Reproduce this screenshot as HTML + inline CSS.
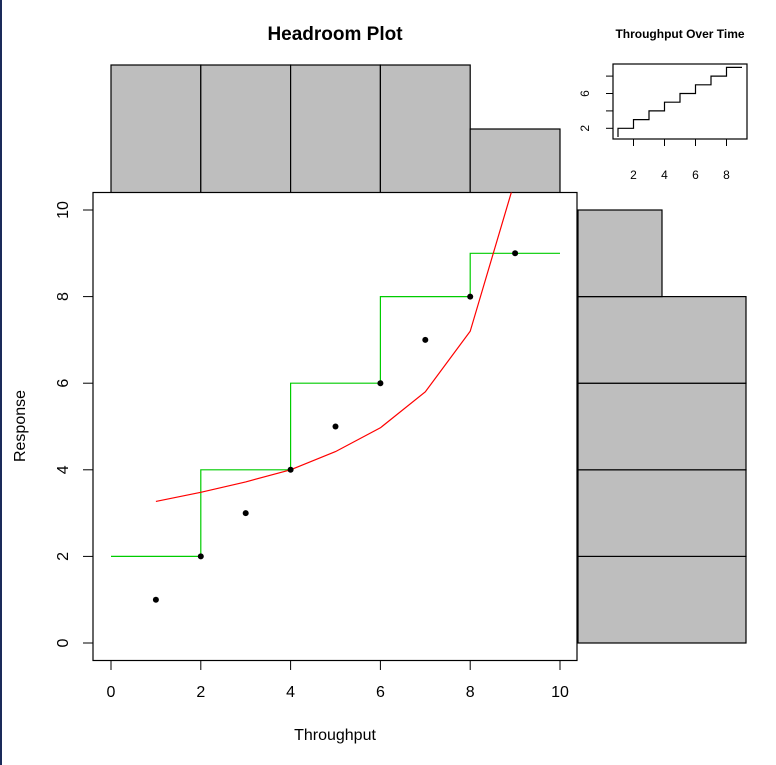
<!DOCTYPE html>
<html><head><meta charset="utf-8"><style>
body{margin:0;background:#fff;}
svg{display:block;font-family:"Liberation Sans",Arial,sans-serif;}
</style></head><body>
<svg id="c" width="776" height="765">
<rect x="0" y="0" width="2" height="765" fill="#1a2a5a"/>
<g id="g"></g>
</svg>
<script>
const xs=[1,2,3,4,5,6,7,8,9];
const ys=[1,2,3,4,5,6,7,8,9];
const fitY=[3.27,3.48,3.72,4.0,4.42,4.97,5.8,7.2,10.7];
const stepX=[0,2,4,6,8,10];
const stepY=[2,4,6,8,9,9];
const histBreaks=[0,2,4,6,8,10];
const histTopCounts=[2,2,2,2,1];
const histRightCounts=[2,2,2,2,1];
const ticks=[0,2,4,6,8,10];
const insetX=[1,2,3,4,5,6,7,8,9];
const insetY=[1,2,3,4,5,6,7,8,9];
const insetXTicks=[2,4,6,8];
const insetYTicks=[2,4,6,8];
const insetYLabels=["2","","6",""];

const NS="http://www.w3.org/2000/svg";
const g=document.getElementById('g');
function el(t,a,p){const e=document.createElementNS(NS,t);for(const k in a)e.setAttribute(k,a[k]);(p||g).appendChild(e);return e;}
const X=v=>111+v*44.9, Y=v=>643-v*43.3;
// top histogram
const HT=c=>193-c*64;
histTopCounts.forEach((c,i)=>{const r=el('rect',{x:X(histBreaks[i]),y:HT(c),width:X(histBreaks[i+1])-X(histBreaks[i]),height:193-HT(c),fill:'#bebebe',stroke:'#000','stroke-width':1.2});

});
// right histogram
const HR=c=>578+c*84;
histRightCounts.forEach((c,i)=>{const r=el('rect',{x:578,y:Y(histBreaks[i+1]),width:HR(c)-578,height:Y(histBreaks[i])-Y(histBreaks[i+1]),fill:'#bebebe',stroke:'#000','stroke-width':1.2});

});
// plot box
const pb=el('rect',{x:93,y:192.5,width:484,height:468,fill:'#fff',stroke:'#000','stroke-width':1.2});


el('clipPath',{id:'cp'});
el('rect',{x:93,y:192.5,width:484,height:468},document.getElementById('cp'));
// axes ticks
ticks.forEach(t=>{
 el('line',{x1:X(t),x2:X(t),y1:660.5,y2:670,stroke:'#000'});
 const tx=el('text',{x:X(t),y:697,'font-size':16,'text-anchor':'middle'});tx.textContent=t;
 
 
 el('line',{x1:83,x2:93,y1:Y(t),y2:Y(t),stroke:'#000'});
 const ty=el('text',{x:0,y:0,'font-size':16,'text-anchor':'middle',transform:`translate(68,${Y(t)}) rotate(-90)`});ty.textContent=t;
 
 
});
const xt=el('text',{x:335,y:740,'font-size':16,'text-anchor':'middle'});xt.textContent='Throughput';

const yt=el('text',{x:0,y:0,'font-size':16,'text-anchor':'middle',transform:'translate(25,426) rotate(-90)'});yt.textContent='Response';

const tt=el('text',{x:335,y:40,'font-size':19,'font-weight':'bold','text-anchor':'middle'});tt.textContent='Headroom Plot';

// step line
let d='M'+X(stepX[0])+' '+Y(stepY[0]);
for(let i=1;i<stepX.length;i++){d+=' L'+X(stepX[i])+' '+Y(stepY[i-1])+' L'+X(stepX[i])+' '+Y(stepY[i]);}
const sl=el('path',{d:d,fill:'none',stroke:'#00cc00','stroke-width':1.2,'clip-path':'url(#cp)'});

// fit line
const fl=el('polyline',{points:xs.map((x,i)=>X(x)+','+Y(fitY[i])).join(' '),fill:'none',stroke:'#ff0000','stroke-width':1.2,'clip-path':'url(#cp)'});

xs.forEach((x,i)=>{const c=el('circle',{cx:X(x),cy:Y(ys[i]),r:3,fill:'#000'});
});
// inset
const IX=v=>618+(v-1)*15.5, IY=v=>137-(v-1)*8.7;
const ib=el('rect',{x:613,y:64,width:134,height:75,fill:'#fff',stroke:'#000','stroke-width':1.2});

let d2='M'+IX(insetX[0])+' '+IY(insetY[0]);
for(let i=1;i<insetX.length;i++){d2+=' L'+IX(insetX[i-1])+' '+IY(insetY[i])+' L'+IX(insetX[i])+' '+IY(insetY[i]);}
const il=el('path',{d:d2,fill:'none',stroke:'#000','stroke-width':1.2});

insetXTicks.forEach(t=>{el('line',{x1:IX(t),x2:IX(t),y1:139,y2:146,stroke:'#000'});
 const a=el('text',{x:IX(t),y:179,'font-size':12,'text-anchor':'middle'});a.textContent=t;
 });
insetYTicks.forEach((t,i)=>{el('line',{x1:606,x2:613,y1:IY(t),y2:IY(t),stroke:'#000'});
 const a=el('text',{x:0,y:0,'font-size':12,'text-anchor':'middle',transform:`translate(589,${IY(t)}) rotate(-90)`});a.textContent=insetYLabels[i];
 });
const it=el('text',{x:680,y:38,'font-size':12,'font-weight':'bold','text-anchor':'middle'});it.textContent='Throughput Over Time';

</script>
</body></html>
